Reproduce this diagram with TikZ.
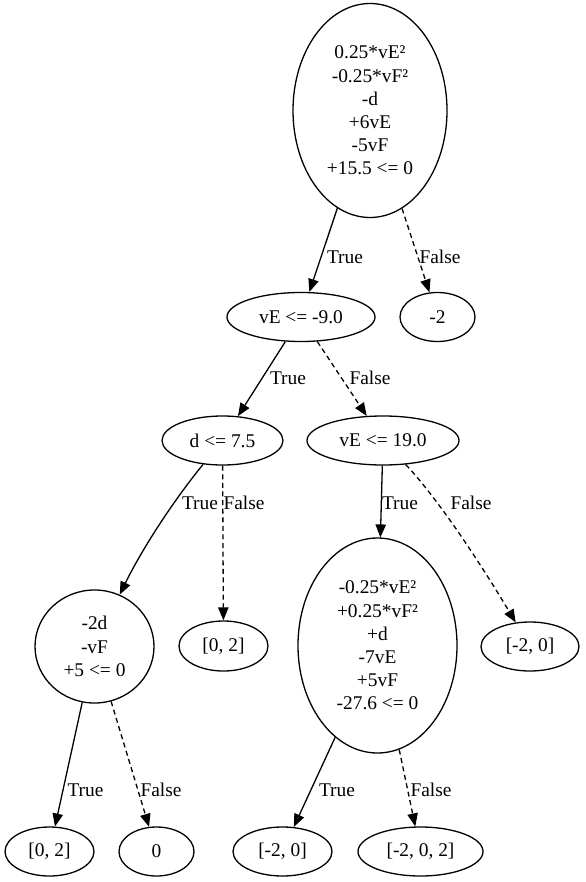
\documentclass[tikz,border=0pt]{standalone}
\usepackage{fontspec}
\setmainfont{Liberation Serif}
\usetikzlibrary{shapes.geometric,arrows.meta}
\begin{document}
\begin{tikzpicture}[x=0.5pt,y=-0.5pt,
  every node/.style={font=\fontsize{9.7}{11.6}\selectfont},
  nd/.style={draw,ellipse,line width=0.65pt,inner sep=0pt,align=center,minimum height=24.5pt},
  edge/.style={line width=0.65pt,-{Triangle[length=6.5pt,width=5.2pt]}},
  dedge/.style={edge,dash pattern=on 2.5pt off 1.8pt},
  lbl/.style={inner sep=0pt}]
\useasboundingbox (0,0) rectangle (585,882);
\node[nd,minimum width=77pt,minimum height=107pt] (top) at (370,110.5) {0.25*vE²\\-0.25*vF²\\-d\\+6vE\\-5vF\\+15.5 <= 0};
\node[nd,minimum width=74pt] (vE9) at (301,317) {vE <= -9.0};
\node[nd,minimum width=37.5pt] (m2) at (437.5,317) {-2};
\node[nd,minimum width=60.5pt] (d) at (222.5,440.5) {d <= 7.5};
\node[nd,minimum width=76pt] (vE19) at (383,440.5) {vE <= 19.0};
\node[nd,minimum width=59.5pt,minimum height=56.5pt] (circ) at (94.5,646.5) {-2d\\-vF\\+5 <= 0};
\node[nd,minimum width=44.5pt,minimum height=25pt] (za) at (223.5,646) {[0, 2]};
\node[nd,minimum width=79.5pt,minimum height=107.5pt] (big) at (377.5,645.5) {-0.25*vE²\\+0.25*vF²\\+d\\-7vE\\+5vF\\-27.6 <= 0};
\node[nd,minimum width=49pt] (r20) at (530,646.5) {[-2, 0]};
\node[nd,minimum width=44.5pt] (zb) at (49.5,851.5) {[0, 2]};
\node[nd,minimum width=37.5pt] (zero) at (156.5,851.5) {0};
\node[nd,minimum width=49.5pt] (b20) at (282.5,851.5) {[-2, 0]};
\node[nd,minimum width=62.5pt] (b202) at (420.5,851.5) {[-2, 0, 2]};

\draw[edge] (top) -- (vE9) node[lbl] at (345,257) {True};
\draw[dedge] (top) -- (m2) node[lbl] at (440,257) {False};
\draw[edge] (vE9) -- (d) node[lbl] at (288,378) {True};
\draw[dedge] (vE9) -- (vE19) node[lbl] at (370,378) {False};
\draw[edge] (d) .. controls (170,505) and (140,553) .. (circ) node[lbl] at (200,503) {True};
\draw[dedge] (d) -- (za) node[lbl] at (244,503) {False};
\draw[edge] (vE19) -- (big) node[lbl] at (400,503) {True};
\draw[dedge] (vE19) .. controls (442,503) and (488,576) .. (r20) node[lbl] at (471,503) {False};
\draw[edge] (circ) -- (zb) node[lbl] at (85.5,790) {True};
\draw[dedge] (circ) -- (zero) node[lbl] at (161,790) {False};
\draw[edge] (big) -- (b20) node[lbl] at (337,790) {True};
\draw[dedge] (big) -- (b202) node[lbl] at (431,790) {False};
\end{tikzpicture}
\end{document}
